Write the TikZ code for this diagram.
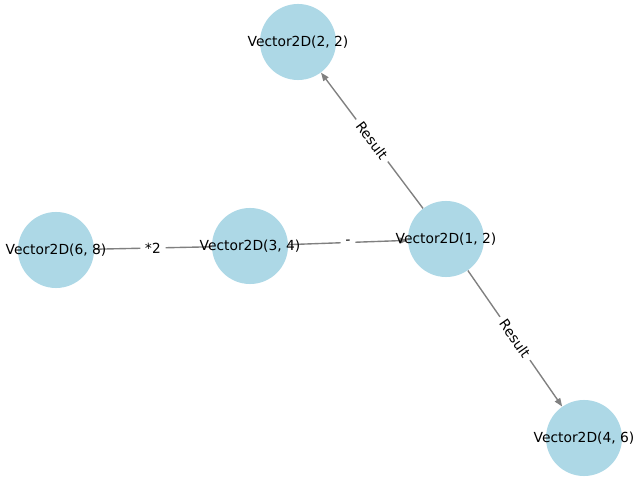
\documentclass[tikz,border=0pt]{standalone}
\usepackage{fontspec}
\setmainfont{DejaVu Sans}
\usetikzlibrary{arrows.meta}
\pgfdeclarelayer{background}
\pgfsetlayers{background,main}
\definecolor{nodeblue}{HTML}{ADD8E6}
\newcommand{\vtext}[1]{\makebox[0pt]{#1}}

\begin{document}
\begin{tikzpicture}[x=0.01in,y=-0.01in,
    vec/.style={circle,fill=nodeblue,minimum size=0.76in,inner sep=0pt,font=\fontsize{10}{12}\selectfont},
    link/.style={draw=gray,line width=1pt,-{Triangle[length=6pt,width=4.5pt]}},
    plain/.style={draw=gray,line width=1pt},
    tag/.style={fill=white,inner xsep=3.5pt,inner ysep=1pt,sloped,font=\fontsize{10}{12}\selectfont}]
            \useasboundingbox (0,0) rectangle (640,480);
            \node[vec] (v22) at (298,42) {\vtext{Vector2D(2, 2)}};
            \node[vec] (v68) at (56,250) {\vtext{Vector2D(6, 8)}};
            \node[vec] (v34) at (250,246) {\vtext{Vector2D(3, 4)}};
            \node[vec] (v12) at (446,239) {\vtext{Vector2D(1, 2)}};
            \node[vec] (v46) at (584,438) {\vtext{Vector2D(4, 6)}};
            \begin{pgfonlayer}{background}
            \draw[plain] (v68) -- node[tag] {*2} (v34);
            \draw[link] (v34) -- node[tag] {-} (v12);
            \draw[link] (v12) -- node[tag] {Result} (v22);
            \draw[link] (v12) -- node[tag] {Result} (v46);
            \end{pgfonlayer}
        \end{tikzpicture}
\end{document}
